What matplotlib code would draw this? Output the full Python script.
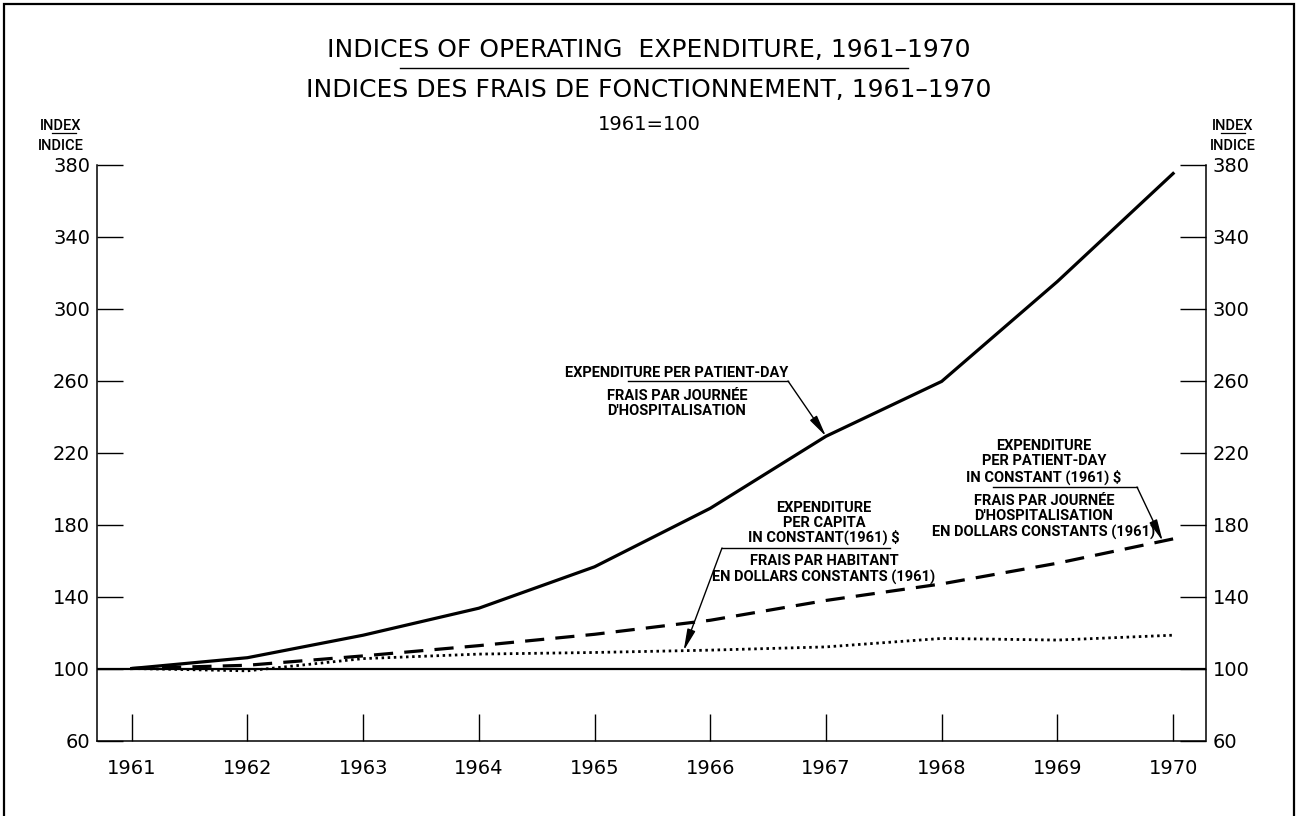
import numpy as np
import matplotlib
matplotlib.use("Agg")
import matplotlib.pyplot as plt
from matplotlib.lines import Line2D
from matplotlib.patches import Rectangle

# ---------------- data ----------------
years = [1961, 1962, 1963, 1964, 1965, 1966, 1967, 1968, 1969, 1970]
per_patient_day = [100, 106, 118.5, 133.5, 156.5, 189, 229, 259.5, 315, 375]
per_patient_day_const = [100, 101.8, 107, 112.7, 119, 126.8, 137.8, 147, 158.5, 172]
per_capita_const = [100, 98.7, 105.5, 108, 108.9, 110.2, 112, 116.7, 115.8, 118.5]
y_ticks = [60, 100, 140, 180, 220, 260, 300, 340, 380]
x_labels = [str(y) for y in years]

title_en = "INDICES OF OPERATING  EXPENDITURE, 1961–1970"
title_fr = "INDICES DES FRAIS DE FONCTIONNEMENT, 1961–1970"
base_txt = "1961=100"

W, H = 1297, 816
fig = plt.figure(figsize=(W / 100, H / 100), dpi=100)
fig.patch.set_facecolor("white")


def fx(x):
    return x / W


def fy(y):
    return 1 - y / H


# axes placement (pixels): left spine 97, right spine 1205, y=380 at 164, y=60 at 740
L, R, T, B = 97, 1205.5, 164.5, 740.5
ax = fig.add_axes([fx(L), fy(B), (R - L) / W, (B - T) / H])
ax.set_xlim(1960.70, 1970.28)
ax.set_ylim(60, 380)
ax.spines["top"].set_visible(False)
for s in ("left", "right", "bottom"):
    ax.spines[s].set_linewidth(1.1)

num_font = "DejaVu Sans"
ax.set_yticks(y_ticks)
ax.set_yticklabels([str(v) for v in y_ticks], fontsize=14, family=num_font)
ax.tick_params(axis="y", direction="in", length=19, width=1.0, left=True, right=True,
               labelleft=True, labelright=True, pad=5)
ax.set_xticks(years)
ax.set_xticklabels(x_labels, fontsize=14, family=num_font)
ax.tick_params(axis="x", direction="in", length=19.5, width=1.0, pad=13)

# baseline at 100
ax.axhline(100, color="black", lw=1.6, zorder=2)

# series
ax.plot(years, per_patient_day, color="black", lw=2.3, solid_joinstyle="miter", zorder=3)
ax.plot(years, per_patient_day_const, color="black", lw=2.3, linestyle=(0, (6, 3.5)), zorder=3)
ax.plot(years, per_capita_const, color="black", lw=2.0, linestyle=(0, (0.9, 1.3)), zorder=3)

# ---------------- titles ----------------
fig.text(fx(649), fy(57), title_en, ha="center", va="baseline", fontsize=18, family=num_font)
fig.text(fx(649), fy(96.5), title_fr, ha="center", va="baseline", fontsize=18, family=num_font)
fig.lines.append(Line2D([fx(400), fx(908)], [fy(68), fy(68)], transform=fig.transFigure,
                        color="black", lw=1.0))
fig.text(fx(649), fy(130), base_txt, ha="center", va="baseline", fontsize=14, family=num_font)

small = ["Roboto", "DejaVu Sans"]
for cx, ux0, ux1 in ((61, 52, 76), (1233, 1221, 1245)):
    fig.text(fx(cx), fy(129.5), "INDEX", ha="center", va="baseline", fontsize=10.5,
             family=small, fontweight="medium")
    fig.text(fx(cx), fy(150), "INDICE", ha="center", va="baseline", fontsize=10.5,
             family=small, fontweight="medium")
    fig.lines.append(Line2D([fx(ux0), fx(ux1)], [fy(133), fy(133)], transform=fig.transFigure,
                            color="black", lw=0.9))

# ---------------- annotations ----------------
ann_kw = dict(ha="center", va="baseline", fontsize=10.5, family=small, fontweight="bold")


def label_block(cx, lines, baselines, ux0, ux1, uy, tip, start_x):
    for t, b in zip(lines, baselines):
        fig.text(fx(cx), fy(b), t, **ann_kw)
    fig.lines.append(Line2D([fx(ux0), fx(ux1)], [fy(uy), fy(uy)], transform=fig.transFigure,
                            color="black", lw=1.0))
    ax.annotate("", xy=tip, xycoords="data",
                xytext=(fx(start_x), fy(uy)),
                textcoords="figure fraction",
                arrowprops=dict(arrowstyle="-|>,head_length=1.3,head_width=0.25",
                                color="black", lw=1.0, shrinkA=0, shrinkB=0))


# expenditure per patient-day
label_block(677, ["EXPENDITURE PER PATIENT-DAY", "FRAIS PAR JOURNÉE", "D'HOSPITALISATION"],
            [377, 400, 415], 628, 788, 381, (1967, per_patient_day[6]), 788)

# per capita constant
x2 = 1965.77
label_block(824, ["EXPENDITURE", "PER CAPITA", "IN CONSTANT(1961) $",
                  "FRAIS PAR HABITANT", "EN DOLLARS CONSTANTS (1961)"],
            [512, 527, 542, 565, 582], 722, 890, 548,
            (x2, float(np.interp(x2, years, per_capita_const))), 722)

# per patient-day constant
x3 = 1969.91
label_block(1044, ["EXPENDITURE", "PER PATIENT-DAY", "IN CONSTANT (1961) $",
                   "FRAIS PAR JOURNÉE", "D'HOSPITALISATION", "EN DOLLARS CONSTANTS (1961)"],
            [450, 465, 482, 505, 520, 537], 993, 1137, 487,
            (x3, float(np.interp(x3, years, per_patient_day_const))), 1137)

# figure border
fig.patches.append(Rectangle((fx(3.5), fy(830)), fx(1290.5), fy(3.5) - fy(830),
                             transform=fig.transFigure, fill=False, lw=1.6, color="black"))

fig.savefig("out.png", dpi=100, facecolor="white")
